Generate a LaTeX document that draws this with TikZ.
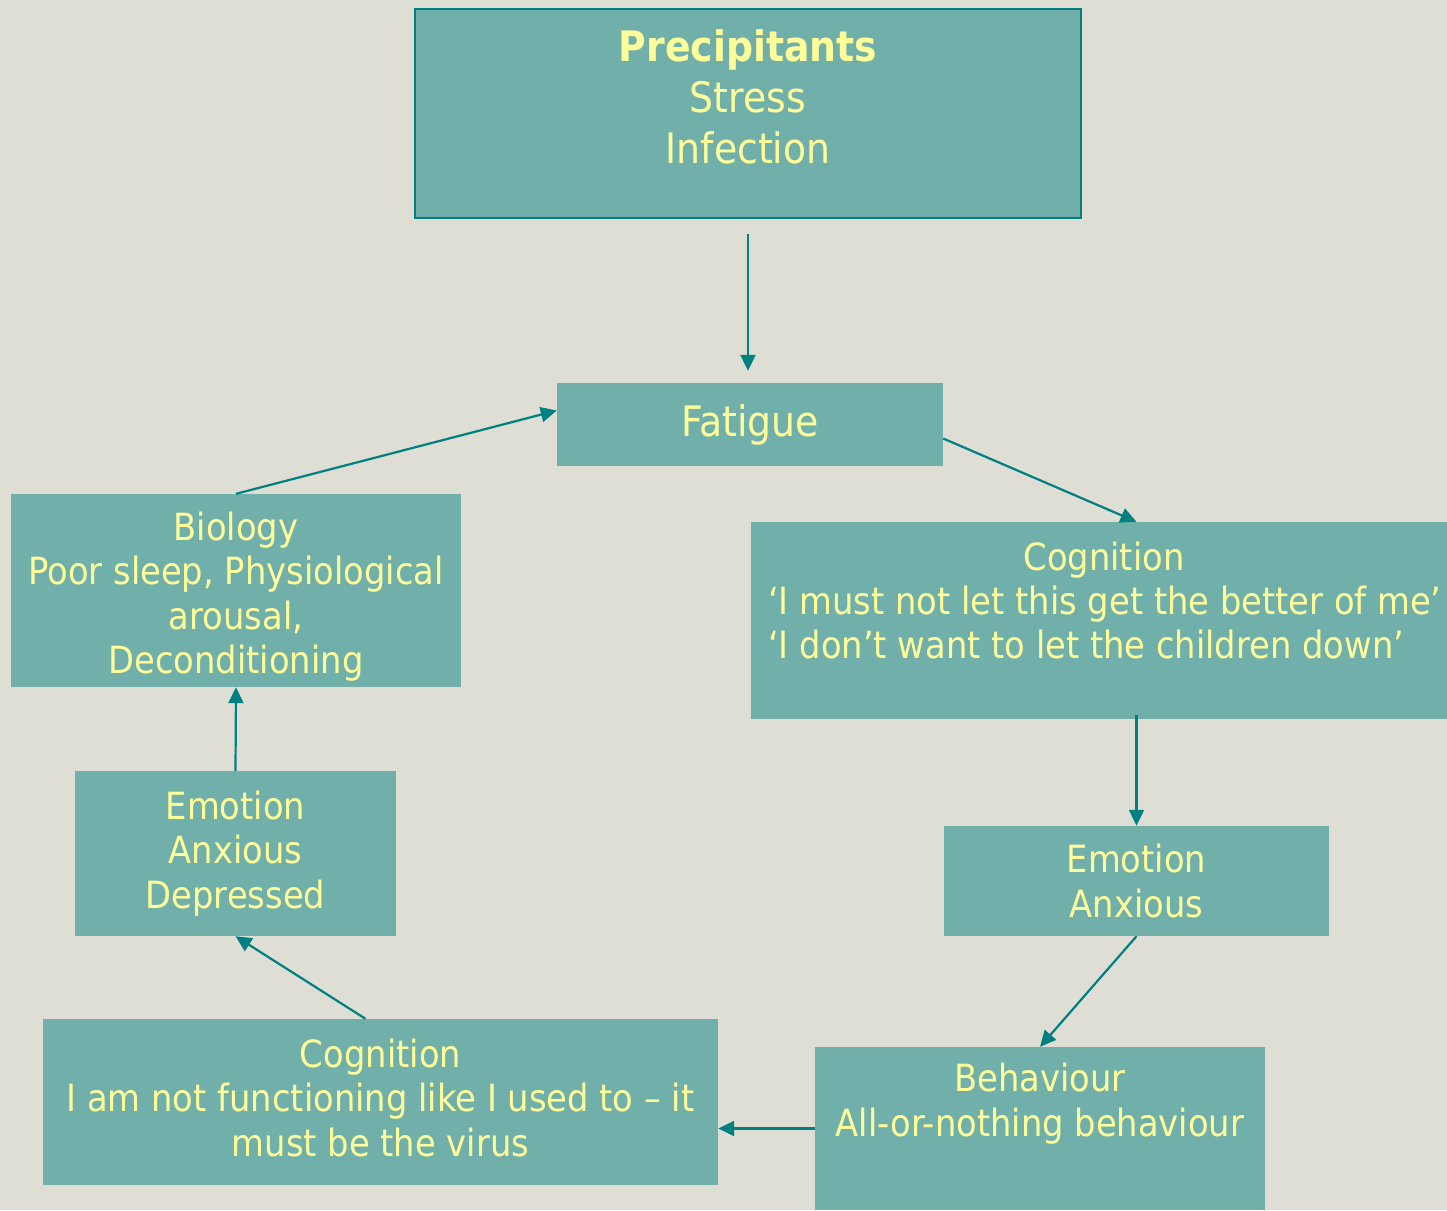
\documentclass[tikz,border=0pt]{standalone}
\usepackage{fontspec}
\setmainfont[FakeStretch=0.9]{DejaVu Sans}
\usetikzlibrary{arrows.meta}

\definecolor{bgcol}{RGB}{222,222,212}
\definecolor{boxcol}{RGB}{112,175,170}
\definecolor{linecol}{RGB}{0,128,128}
\definecolor{txtcol}{RGB}{255,255,153}

\tikzset{
  box/.style={rectangle, fill=boxcol, inner sep=0pt, text=txtcol, align=center, font=\fontsize{37.5}{44.5}\selectfont},
  txt/.style={text=txtcol, align=center, inner sep=0pt, font=\fontsize{37.5}{44.5}\selectfont},
  bigtxt/.style={font=\fontsize{42}{51}\selectfont},
  link/.style={draw=linecol, line width=2.2pt, -{Triangle[length=16pt,width=15pt]}},
}

\begin{document}
\begin{tikzpicture}[x=1pt,y=-1pt]

    \fill[bgcol] (0,0) rectangle (1447,1210);
    \useasboundingbox (0,0) rectangle (1447,1210);

    \node[box, draw=linecol, line width=2pt, minimum width=666pt, minimum height=209pt] (pre) at (748,113.5) {};
    \node[txt, bigtxt] (preT) at ([yshift=16.5pt]pre.center) {\textbf{Precipitants}\\Stress\\Infection};

    \node[box, bigtxt, minimum width=386pt, minimum height=83pt] (fat) at (750,424.5) {Fatigue};

    \node[box, minimum width=450pt, minimum height=193pt] (bio) at (236,590.5) {};
    \node[txt] (bioT) at ([yshift=-6pt]bio.center) {Biology\\Poor sleep, Physiological\\arousal,\\Deconditioning};

    \node[box, minimum width=696pt, minimum height=197pt] (cog1) at (1099,620.5) {};
    \node[txt] (cog1T) at (1104,560) {Cognition};
    \node[txt, align=left, anchor=west] (cog1Q) at (768,622.5) {‘I must not let this get the better of me’\\‘I don’t want to let the children down’};

    \node[box, minimum width=385pt, minimum height=110pt] (emoR) at (1136.5,881) {Emotion\\Anxious};

    \node[box, minimum width=321pt, minimum height=165pt] (emoL) at (235.5,853.5) {Emotion\\Anxious\\Depressed};

    \node[box, minimum width=675pt, minimum height=166pt] (cog2) at (380.5,1102) {};
    \node[txt] (cog2T) at ([yshift=4pt]cog2.center) {Cognition\\I am not functioning like I used to – it\\must be the virus};

    \node[box, minimum width=450pt, minimum height=163pt] (beh) at (1040,1128.5) {};
    \node[txt] (behT) at ([yshift=25pt]beh.center) {Behaviour\\All-or-nothing behaviour};

    \draw[link] ([yshift=-15pt]pre.south) -- ([yshift=12pt]pre.south |- fat.north);
    \draw[link] ([yshift=-14pt]fat.east) -- (cog1.north -| emoR.north);
    \draw[link] ([yshift=4pt]cog1.south -| emoR.north) -- (emoR.north);
    \draw[link] (emoR.south) -- (beh.north);
    \draw[link] (beh.west) -- (beh.west -| cog2.east);
    \draw[link] ([xshift=-15pt]cog2.north) -- (emoL.south);
    \draw[link] (emoL.north) -- (bio.south);
    \draw[link] (bio.north) -- ([yshift=14pt]fat.west);

\end{tikzpicture}
\end{document}
